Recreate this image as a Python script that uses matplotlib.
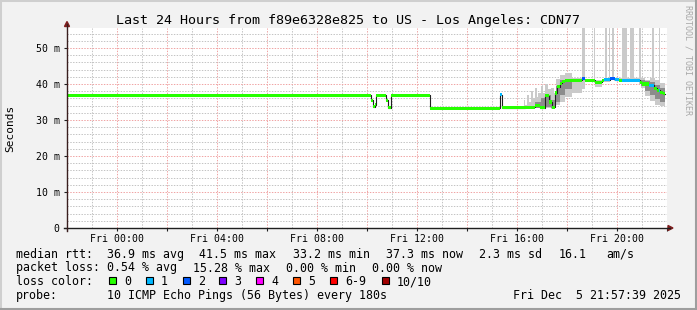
#!/usr/bin/env python3
"""SmokePing style 24h latency chart, redrawn with matplotlib."""
import numpy as np
import matplotlib
matplotlib.use("Agg")
import matplotlib.pyplot as plt
from matplotlib.lines import Line2D
from matplotlib.patches import Polygon, Rectangle

W, H = 697, 310
plt.rcParams["font.family"] = ["DejaVu Sans Mono"]

# median rtt in ms, each value holds from its start hour (relative to Fri 00:00)
med_t = [-2.00, 10.17, 10.22, 10.30, 10.36, 10.77, 10.85, 10.97, 12.50,
         15.30, 15.40, 16.33, 16.73, 16.93, 17.13, 17.26, 17.40, 17.53,
         17.60, 17.73, 17.80, 17.93, 18.60, 18.73, 18.93, 19.13, 19.40,
         19.47, 19.73, 19.93, 20.07, 20.20, 20.93, 21.00, 21.27, 21.47,
         21.60, 21.67, 21.73, 21.83]
med_v = [36.9, 35.5, 33.7, 34.2, 36.9, 35.5, 33.4, 36.9, 33.3,
         37.0, 33.4, 33.6, 34.0, 33.4, 36.8, 35.0, 33.5, 37.5,
         39.3, 40.2, 40.8, 41.0, 41.4, 41.0, 41.0, 40.5, 41.0,
         41.2, 41.6, 41.2, 41.0, 41.1, 40.5, 40.0, 39.7, 38.8,
         38.2, 38.2, 37.6, 37.3]
med_loss = [0, 0, 0, 0, 0, 0, 0, 0, 0,
            1, 0, 0, 0, 0, 0, 0, 0, 0,
            0, 0, 0, 0, 2, 0, 0, 0, 0,
            1, 2, 1, 0, 1, 0, 0, 1, 0,
            0, 1, 0, 0]
t_end = 21.93

# smoke: min / max of the pings (outer) and the inner pings (core)
nan = np.nan
smoke_t = [15.36, 15.40, 16.20, 16.27, 16.33, 16.40, 16.47, 16.57, 16.65,
           16.73, 16.80, 16.85, 16.97, 17.05, 17.13, 17.25, 17.37, 17.47,
           17.57, 17.73, 17.93, 18.20, 18.60, 18.73, 19.07,
           19.13, 19.40, 19.53, 19.60, 19.67, 19.73, 19.80, 19.89, 20.20,
           20.40, 20.50, 20.69, 20.89, 20.96, 21.13, 21.33, 21.40, 21.47,
           21.53, 21.67, 21.73]
smoke_lo = [33.4, nan, 33.2, 33.2, 33.3, 33.3, 33.3, 33.3, 33.3,
            33.5, 33.5, 33.2, 33.0, 33.0, 33.2, 33.2, 33.0, 33.2,
            34.2, 35.0, 36.5, 37.5, 38.5, 40.6, 40.3,
            39.2, 40.6, 40.6, 40.6, 40.6, 41.0, 41.0, 40.8, 40.7,
            40.7, 40.7, 40.7, 40.0, 38.9, 36.6, 35.2, 35.2, 35.2,
            34.2, 34.2, 33.8]
smoke_hi = [70.0, nan, 34.0, 35.5, 34.2, 37.0, 35.0, 38.0, 36.0,
            38.8, 36.5, 37.5, 39.5, 37.5, 40.0, 38.5, 39.0, 37.5,
            41.5, 42.5, 43.0, 41.8, 70.0, 41.5, 70.0,
            41.2, 41.5, 70.0, 41.6, 70.0, 42.0, 70.0, 41.8, 70.0,
            41.6, 70.0, 41.6, 70.0, 41.7, 41.2, 41.7, 70.0, 41.7,
            41.2, 70.0, 40.3]
core_t = [16.73, 16.97, 17.13, 17.37, 17.57, 17.73, 17.93, 18.20, 18.60,
          20.96, 21.13, 21.33, 21.53, 21.73]
core_lo = [33.4, 33.3, 33.5, 33.4, 35.0, 37.0, 38.5, 39.5, nan,
           39.5, 38.0, 37.0, 35.8, 35.0]
core_hi = [35.0, 36.0, 37.0, 35.5, 39.5, 41.0, 41.5, 41.2, nan,
           41.0, 40.8, 40.5, 39.8, 38.8]

loss_labels = ["0", "1", "2", "3", "4", "5", "6-9", "10/10"]
loss_colors = ["#26ff00", "#00b8ff", "#0059ff", "#7e00ff", "#ff00ff",
               "#ff5500", "#ff0000", "#a10000"]

title = "Last 24 Hours from f89e6328e825 to US - Los Angeles: CDN77"
rtt_row = ["median rtt:", "36.9 ms avg", "41.5 ms max", "33.2 ms min",
           "37.3 ms now", "2.3 ms sd", "16.1", "am/s"]
loss_row = ["packet loss:", "0.54 % avg", "15.28 % max", "0.00 % min",
            "0.00 % now"]
probe_row = ["probe:", "10 ICMP Echo Pings (56 Bytes) every 180s",
             "Fri Dec  5 21:57:39 2025"]


def fx(x):
    return x / W


def fy(y):
    return 1 - y / H


fig = plt.figure(figsize=(W / 100, H / 100), dpi=100, facecolor="#f2f2f2")
# 3d frame of the rrdtool image
fig.add_artist(Rectangle((0, 0), 1, 1, transform=fig.transFigure,
                         fill=False, ec="#cfcfcf", lw=2.2))
fig.add_artist(Line2D([fx(1), fx(W - 1)], [fy(H - 1)] * 2, color="#9e9e9e", lw=1.5))
fig.add_artist(Line2D([fx(W - 1)] * 2, [fy(1), fy(H - 1)], color="#9e9e9e", lw=1.5))

x0, x1, ytop, ybot = 67, 667, 28, 228
ax = fig.add_axes([fx(x0), fy(ybot), (x1 - x0) / W, (ybot - ytop) / H])
ax.set_xlim(-2, 22)
ax.set_ylim(0, (ybot - ytop) / 3.6)
for s in ax.spines.values():
    s.set_visible(False)

# grid: minor grey, major red, both dotted
for h in range(-1, 22):
    c = "#f0a4a4" if h % 2 == 0 else "#c4c4c4"
    ax.axvline(h, color=c, lw=0.72, ls=(0, (1.4, 1.4)), zorder=0)
for v in range(2, 56, 2):
    c = "#f0a4a4" if v % 10 == 0 else "#c4c4c4"
    ax.axhline(v, color=c, lw=0.72, ls=(0, (1.4, 1.4)), zorder=0)

# smoke
st = smoke_t + [t_end]
ax.fill_between(st, smoke_lo + [smoke_lo[-1]], smoke_hi + [smoke_hi[-1]],
                step="post", color="#cacaca", lw=0, zorder=1)
ct = core_t + [t_end]
ax.fill_between(ct, core_lo + [core_lo[-1]], core_hi + [core_hi[-1]],
                step="post", color="#8c8c8c", lw=0, zorder=2)

# median: dark line, then loss coloured band on top
mt = med_t + [t_end]
ax.step(mt, med_v + [med_v[-1]], where="post", color="#202020", lw=0.8, zorder=3)
sw = 0.42
for i, v in enumerate(med_v):
    ax.fill_between([mt[i], mt[i + 1]], [v - sw] * 2, [v + sw] * 2,
                    color=loss_colors[med_loss[i]], lw=0, zorder=4)

# ticks
ticks = list(range(-2, 23, 2))
ax.set_xticks(ticks)
ax.set_xticklabels([f"Fri {h:02d}:00" if h >= 0 and h % 4 == 0 else "" for h in ticks])
ax.set_yticks(range(0, 51, 10))
ax.set_yticklabels(["0"] + [f"{v} m" for v in range(10, 51, 10)])
ax.tick_params(length=2.2, width=0.8, color="#1f1f1f", labelsize=7.1)
ax.tick_params(axis="x", pad=2.0)
ax.tick_params(axis="y", pad=3.0)
ax.set_facecolor("white")

# axes with arrows
fig.add_artist(Line2D([fx(x0 - 3), fx(670)], [fy(ybot)] * 2, color="#1f1f1f", lw=1.0))
fig.add_artist(Line2D([fx(x0)] * 2, [fy(ybot + 3), fy(24)], color="#3a1f1f", lw=1.0))
fig.add_artist(Polygon([(fx(668), fy(ybot - 2.5)), (fx(668), fy(ybot + 2.5)),
                        (fx(673), fy(ybot))], closed=True, color="#801f1f",
                       transform=fig.transFigure))
fig.add_artist(Polygon([(fx(x0 - 2.5), fy(26.5)), (fx(x0 + 2.5), fy(26.5)),
                        (fx(x0), fy(21.5))], closed=True, color="#801f1f",
                       transform=fig.transFigure))

# texts
fig.text(fx(348), fy(24), title, ha="center", va="baseline", fontsize=9.6)
fig.text(fx(10), fy(128), "Seconds", rotation=90, ha="center", va="center",
         fontsize=8.0)
fig.text(fx(688), fy(5), "RRDTOOL / TOBI OETIKER", rotation=270, ha="center",
         va="top", fontsize=6.0, color="#a8a8a8")

lfs = 8.37
for txt, x in zip(rtt_row, [16, 107.3, 199.3, 293.3, 385.7, 479.3, 558.3, 606.7]):
    fig.text(fx(x), fy(257.7), txt, fontsize=lfs, va="baseline")
for txt, x in zip(loss_row, [16, 107.3, 192.7, 286, 372.3]):
    fig.text(fx(x), fy(271.5), txt, fontsize=lfs, va="baseline")
fig.text(fx(16), fy(285.2), "loss color:", fontsize=lfs, va="baseline")
box_x = [109, 145.7, 182.7, 219.3, 256, 293.3, 330, 381.7]
for lab, col, bx in zip(loss_labels, loss_colors, box_x):
    fig.add_artist(Rectangle((fx(bx), fy(283.5)), 7 / W, 7 / H,
                             transform=fig.transFigure, fc=col, ec="black", lw=0.8))
    fig.text(fx(bx + 15), fy(285.2), lab, fontsize=lfs, va="baseline")
for txt, x in zip(probe_row, [16, 107.3, 513.3]):
    fig.text(fx(x), fy(299.2), txt, fontsize=lfs, va="baseline")

fig.savefig("out.png", dpi=100, facecolor=fig.get_facecolor())
